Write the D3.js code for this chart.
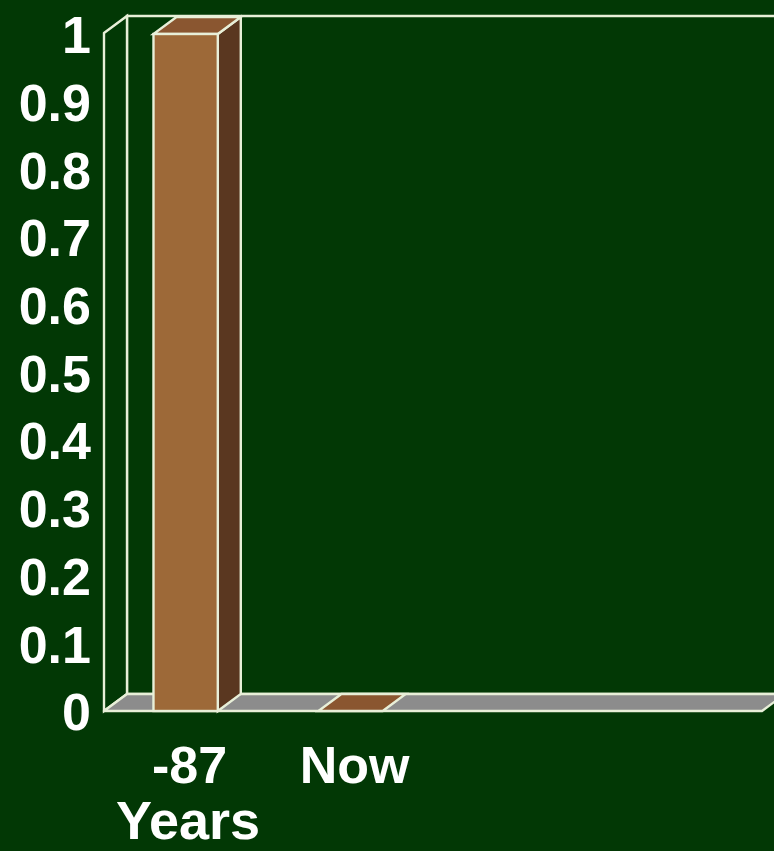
<!DOCTYPE html>
<html>
<head>
<meta charset="utf-8">
<script src="https://cdn.jsdelivr.net/npm/d3@7"></script>
<style>
  html, body { margin: 0; padding: 0; background: #023805; }
  svg { display: block; }
  text { font-family: "Liberation Sans", Arial, sans-serif; font-weight: bold; fill: #ffffff; }
</style>
</head>
<body>
<svg id="chart" width="774" height="851"></svg>
<script>
// Category slots along the floor (only the first two are labelled/filled)
const categories = ["-87", "Now", "", ""];
const values = [1, 0];
const yTicks = [0, 0.1, 0.2, 0.3, 0.4, 0.5, 0.6, 0.7, 0.8, 0.9, 1];
const xTitle = "Years";

const depthX = 23, depthY = -17;          // 3D offset from front plane to back wall
const line = "#e8efd8";
const lw = 2.4;
const colors = {
  wallFill: "#023805",
  floor: "#8c8c8c",
  front: "#9d6938",
  side: "#5a3720",
  top: "#8a5630"
};

const svg = d3.select("#chart");

const x = d3.scaleBand()
  .domain(categories.map((c, i) => i))
  .range([104, 762])
  .paddingInner(0.61)
  .paddingOuter(0.3);

const y = d3.scaleLinear().domain([0, 1]).range([711, 34]);

const [x0, x1] = x.range();
const yBase = y(0), yTop = y(1) - 1;

const pts = a => a.map(p => p.join(",")).join(" ");

// back wall
svg.append("polygon")
  .attr("points", pts([[x0 + depthX, yTop + depthY], [x1 + depthX + 40, yTop + depthY],
                       [x1 + depthX + 40, yBase + depthY], [x0 + depthX, yBase + depthY]]))
  .attr("fill", colors.wallFill).attr("stroke", line).attr("stroke-width", lw);

// left side wall
svg.append("polygon")
  .attr("points", pts([[x0, yTop], [x0 + depthX, yTop + depthY],
                       [x0 + depthX, yBase + depthY], [x0, yBase]]))
  .attr("fill", colors.wallFill).attr("stroke", line).attr("stroke-width", lw);

// floor
svg.append("polygon")
  .attr("points", pts([[x0, yBase], [x1, yBase], [x1 + depthX, yBase + depthY], [x0 + depthX, yBase + depthY]]))
  .attr("fill", colors.floor).attr("stroke", line).attr("stroke-width", lw)
  .attr("stroke-linejoin", "round");

// 3D bars
const bars = svg.append("g").selectAll("g")
  .data(values.map((v, i) => ({ i, v })))
  .join("g");

bars.each(function (d) {
  const g = d3.select(this);
  const bl = x(d.i), br = x(d.i) + x.bandwidth();
  const yt = y(d.v), yb = y(0);
  // right side face
  if (d.v > 0) {
    g.append("polygon")
      .attr("points", pts([[br, yt], [br + depthX, yt + depthY], [br + depthX, yb + depthY], [br, yb]]))
      .attr("fill", colors.side).attr("stroke", line).attr("stroke-width", lw);
  }
  // top face
  g.append("polygon")
    .attr("points", pts([[bl, yt], [br, yt], [br + depthX, yt + depthY], [bl + depthX, yt + depthY]]))
    .attr("fill", colors.top).attr("stroke", line).attr("stroke-width", lw);
  // front face
  if (d.v > 0) {
    g.append("rect")
      .attr("x", bl).attr("y", yt)
      .attr("width", x.bandwidth()).attr("height", yb - yt)
      .attr("fill", colors.front).attr("stroke", line).attr("stroke-width", lw);
  }
});

// value axis
const yAxis = svg.append("g")
  .attr("transform", `translate(${x0},0)`)
  .call(d3.axisLeft(y).tickValues(yTicks).tickSize(0).tickPadding(13).tickFormat(d3.format("~g")));
yAxis.select(".domain").remove();
yAxis.selectAll("text")
  .attr("fill", "#ffffff")
  .style("font-size", "52px")
  .style("font-family", "'Liberation Sans', Arial, sans-serif")
  .style("font-weight", "bold")
  .attr("dy", "0.36em");

// category axis
const xAxis = svg.append("g")
  .attr("transform", `translate(4,${yBase})`)
  .call(d3.axisBottom(x).tickSize(0).tickFormat(i => categories[i]));
xAxis.select(".domain").remove();
xAxis.selectAll("text")
  .attr("fill", "#ffffff")
  .attr("y", 72).attr("dy", null)
  .style("font-size", "52px")
  .style("font-family", "'Liberation Sans', Arial, sans-serif")
  .style("font-weight", "bold");

// axis title
svg.append("text")
  .attr("x", 188).attr("y", 839)
  .attr("text-anchor", "middle")
  .style("font-size", "54px")
  .text(xTitle);
</script>
</body>
</html>
